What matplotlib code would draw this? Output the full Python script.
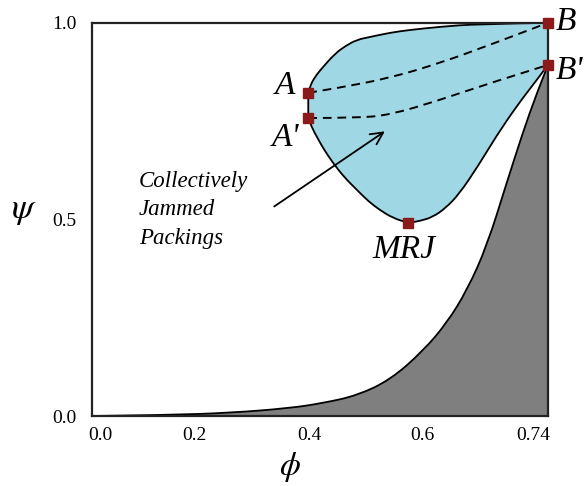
"""
Packing phase diagram (schematic): psi vs phi
"""

import matplotlib
matplotlib.use("Agg")
import matplotlib.pyplot as plt
from matplotlib.path import Path
from matplotlib.patches import PathPatch

# lower boundary of the gray (forbidden) region
low_phi = [0.0, 0.122, 0.224, 0.321, 0.375, 0.430, 0.484, 0.537, 0.576,
           0.609, 0.641, 0.673, 0.699, 0.722, 0.740]
low_psi = [0.0, 0.0025, 0.008, 0.020, 0.033, 0.052, 0.092, 0.165, 0.237,
           0.321, 0.433, 0.593, 0.720, 0.822, 0.893]

# outline of the collectively jammed region
# upper part B -> A, lower part A' -> MRJ -> B'
top_phi = [0.740, 0.625, 0.565, 0.516, 0.484, 0.451, 0.430, 0.411, 0.394,
           0.375, 0.362, 0.354, 0.351]
top_psi = [1.000, 0.997, 0.990, 0.982, 0.975, 0.964, 0.957, 0.941, 0.921,
           0.888, 0.863, 0.840, 0.822]
bot_phi = [0.351, 0.357, 0.365, 0.376, 0.391, 0.409, 0.430, 0.448, 0.467,
           0.488, 0.513, 0.532, 0.553, 0.574, 0.596, 0.625, 0.657, 0.690,
           0.722, 0.740]
bot_psi = [0.758, 0.733, 0.710, 0.679, 0.644, 0.608, 0.575, 0.547, 0.524,
           0.504, 0.491, 0.496, 0.506, 0.529, 0.565, 0.632, 0.714, 0.790,
           0.855, 0.893]

# dashed paths A -> B and A' -> B'
ab_phi = [0.351, 0.402, 0.484, 0.565, 0.646, 0.740]
ab_psi = [0.822, 0.835, 0.860, 0.898, 0.944, 1.000]
ab2_phi = [0.351, 0.430, 0.484, 0.565, 0.646, 0.740]
ab2_psi = [0.758, 0.758, 0.766, 0.804, 0.847, 0.893]

# labelled points
pt_names = ["A", "A'", "B", "B'", "MRJ"]
pt_phi = [0.351, 0.351, 0.740, 0.740, 0.513]
pt_psi = [0.822, 0.758, 1.000, 0.893, 0.491]

# tick labels (schematic: labels sit where the original drawing put them)
xtick_pos = [0.013, 0.167, 0.352, 0.536, 0.716]
xtick_labels = ["0.0", "0.2", "0.4", "0.6", "0.74"]
ytick_pos = [0.0, 0.5, 1.0]
ytick_labels = ["0.0", "0.5", "1.0"]


def smooth(xs, ys, start=True):
    """quadratic bezier through midpoints, read points act as control points"""
    verts = [(xs[0], ys[0])]
    codes = [Path.MOVETO if start else Path.LINETO]
    n = len(xs)
    for i in range(1, n - 1):
        if i == n - 2:
            end = (xs[-1], ys[-1])
        else:
            end = ((xs[i] + xs[i + 1]) / 2, (ys[i] + ys[i + 1]) / 2)
        verts += [(xs[i], ys[i]), end]
        codes += [Path.CURVE3, Path.CURVE3]
    return verts, codes


def main():
    plt.rcParams["mathtext.fontset"] = "stix"
    serif = "Liberation Serif"

    fig = plt.figure(figsize=(5.84, 4.86), dpi=100)
    ax = fig.add_axes([0.1575, 0.144, 0.7808, 0.809])

    # gray region
    v, c = smooth(low_phi, low_psi)
    v += [(low_phi[-1], 0.0), (low_phi[0], 0.0)]
    c += [Path.LINETO, Path.CLOSEPOLY]
    ax.add_patch(PathPatch(Path(v, c), facecolor="#7f7f7f", edgecolor="none", zorder=1))
    v, c = smooth(low_phi, low_psi)
    ax.add_patch(PathPatch(Path(v, c), fill=False, edgecolor="black", lw=1.3, zorder=2))

    # blue region
    v1, c1 = smooth(top_phi, top_psi)
    v2, c2 = smooth(bot_phi, bot_psi, start=False)
    v = v1 + v2 + [(top_phi[0], top_psi[0])]
    c = c1 + c2 + [Path.CLOSEPOLY]
    ax.add_patch(PathPatch(Path(v, c), facecolor="#9fd8e4", edgecolor="black",
                           lw=1.3, joinstyle="round", zorder=2))

    for xs, ys in [(ab_phi, ab_psi), (ab2_phi, ab2_psi)]:
        v, c = smooth(xs, ys)
        ax.add_patch(PathPatch(Path(v, c), fill=False, edgecolor="black", lw=1.4,
                               ls=(0, (4.5, 3)), zorder=3))

    ax.plot(pt_phi, pt_psi, ls="none", marker="s", ms=6.5, color="#8b1a1a",
            zorder=5, clip_on=False)

    lab = dict(family=serif, style="italic", fontsize=24)
    ax.text(pt_phi[0] - 0.022, pt_psi[0] + 0.018, pt_names[0], ha="right", va="center", **lab)
    ax.text(pt_phi[1] - 0.014, pt_psi[1] - 0.05, pt_names[1], ha="right", va="center", **lab)
    ax.text(pt_phi[2] + 0.013, pt_psi[2] + 0.003, pt_names[2], ha="left", va="center", **lab)
    ax.text(pt_phi[3] + 0.013, pt_psi[3] - 0.015, pt_names[3], ha="left", va="center", **lab)
    ax.text(pt_phi[4] - 0.007, pt_psi[4] - 0.069, pt_names[4], ha="center", va="center", **lab)

    ax.text(0.076, 0.524, "Collectively\nJammed\nPackings", ha="left", va="center",
            family=serif, style="italic", fontsize=16.5, linespacing=1.45)
    ax.annotate("", xy=(0.479, 0.728), xytext=(0.292, 0.529),
                arrowprops=dict(arrowstyle="->", color="black", lw=1.3,
                                mutation_scale=22))

    ax.set_xlim(0, 0.74)
    ax.set_ylim(0, 1.0)
    ax.set_xticks(xtick_pos, xtick_labels, family=serif, fontsize=14)
    ax.set_yticks(ytick_pos, ytick_labels, family=serif, fontsize=14)
    ax.tick_params(length=0)
    ax.tick_params(axis="x", pad=8)
    ax.tick_params(axis="y", pad=11)

    ax.set_xlabel(r"$\phi$", fontsize=24, va="center")
    ax.set_ylabel(r"$\psi$", fontsize=26, rotation=0, va="center")
    ax.xaxis.set_label_coords(0.434, -0.13)
    ax.yaxis.set_label_coords(-0.149, 0.524)

    for s in ax.spines.values():
        s.set_linewidth(1.6)
        s.set_color("#222222")
        s.set_zorder(4)

    fig.savefig("out.png", dpi=100)


if __name__ == "__main__":
    main()
